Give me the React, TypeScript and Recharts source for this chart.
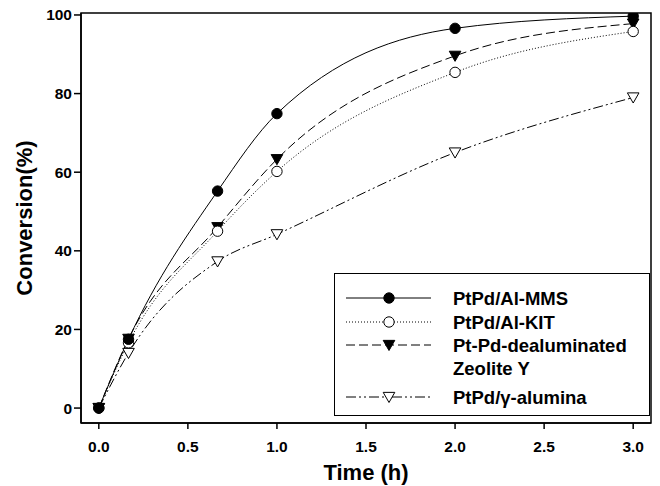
import React from "react"
import { LineChart, Line, XAxis, YAxis, ReferenceArea, Label } from "recharts"

const times = [0, 0.1667, 0.6667, 1.0, 2.0, 3.0]
const mms = [0, 17.5, 55.2, 74.9, 96.6, 99.7]
const kit = [0, 16.6, 45.0, 60.2, 85.4, 95.8]
const zeolite = [0, 17.6, 46.0, 63.3, 89.6, 97.8]
const alumina = [0, 14.0, 37.3, 44.2, 65.0, 79.0]

const xTicks = [0, 0.5, 1.0, 1.5, 2.0, 2.5, 3.0]
const yTicks = [0, 20, 40, 60, 80, 100]

const data = times.map((t, i) => ({
  t,
  mms: mms[i],
  kit: kit[i],
  zeolite: zeolite[i],
  alumina: alumina[i],
}))

const font = "'Liberation Sans', Arial, sans-serif"

const Circle = ({ cx, cy, filled }: any) =>
  cx == null ? null : (
    <circle cx={cx} cy={cy} r={5.2} fill={filled ? "#000" : "#fff"} stroke="#000" strokeWidth={1} />
  )

const Tri = ({ cx, cy, filled }: any) => {
  if (cx == null) return null
  const s = 5.8
  return (
    <polygon
      points={`${cx - s},${cy - s * 0.8} ${cx + s},${cy - s * 0.8} ${cx},${cy + s * 0.95}`}
      fill={filled ? "#000" : "#fff"}
      stroke="#000"
      strokeWidth={1}
    />
  )
}

const series = [
  { key: "mms", name: "PtPd/Al-MMS", dash: undefined, dot: (p: any) => <Circle key={p.key} {...p} filled /> },
  { key: "kit", name: "PtPd/Al-KIT", dash: "1 2", dot: (p: any) => <Circle key={p.key} {...p} /> },
  { key: "zeolite", name: "Pt-Pd-dealuminated", name2: "Zeolite Y", dash: "9 4", dot: (p: any) => <Tri key={p.key} {...p} filled /> },
  { key: "alumina", name: "PtPd/\u03b3-alumina", dash: "10 3 2 3 2 3", dot: (p: any) => <Tri key={p.key} {...p} /> },
]

function LegendBox() {
  const rows = [
    { s: series[0], y: 24 },
    { s: series[1], y: 48 },
    { s: series[2], y: 71 },
    { s: series[3], y: 123 },
  ]
  return (
    <div
      style={{
        position: "absolute",
        left: 334,
        top: 273,
        width: 316,
        height: 143,
        border: "1px solid #000",
        background: "#fff",
        boxSizing: "border-box",
      }}
    >
      <svg width={314} height={141} style={{ position: "absolute", left: 0, top: 0 }}>
        {rows.map(({ s, y }) => (
          <g key={s.key}>
            <line x1={11} x2={96} y1={y} y2={y} stroke="#000" strokeWidth={1} strokeDasharray={s.dash} />
            {s.dot({ cx: 54, cy: y, key: "d" })}
            <text x={118} y={y + 6.5} fontFamily={font} fontWeight="bold" fontSize={18.5} fill="#000">
              {s.name}
            </text>
            {s.name2 && (
              <text x={118} y={y + 29.5} fontFamily={font} fontWeight="bold" fontSize={18.5} fill="#000">
                {s.name2}
              </text>
            )}
          </g>
        ))}
      </svg>
    </div>
  )
}

export default function App() {
  return (
    <div style={{ position: "absolute", left: 0, top: 0, width: 660, height: 486, background: "#fff" }}>
      <LineChart width={660} height={486} data={data} margin={{ top: 13, right: 9, left: 0, bottom: 0 }}>
        <XAxis
          dataKey="t"
          type="number"
          domain={[-0.1, 3.1]}
          ticks={xTicks}
          allowDataOverflow
          tickFormatter={(v: number) => v.toFixed(1)}
          height={63}
          tickSize={6}
          tickMargin={12}
          stroke="#000"
          strokeWidth={1.5}
          tick={{ fill: "#000", fontFamily: font, fontWeight: "bold", fontSize: 15.5 }}
        >
          <Label
            value="Time (h)"
            position="insideBottom"
            offset={6}
            style={{ fill: "#000", fontFamily: font, fontWeight: "bold", fontSize: 22 }}
          />
        </XAxis>
        <YAxis
          type="number"
          domain={[-3.8, 100.5]}
          ticks={yTicks}
          allowDataOverflow
          width={81}
          tickSize={7}
          tickMargin={2}
          stroke="#000"
          strokeWidth={1.5}
          tick={{ fill: "#000", fontFamily: font, fontWeight: "bold", fontSize: 15.5 }}
        >
          <Label
            value="Conversion(%)"
            angle={-90}
            position="insideLeft"
            offset={24}
            style={{ textAnchor: "middle", fill: "#000", fontFamily: font, fontWeight: "bold", fontSize: 22 }}
          />
        </YAxis>
        <ReferenceArea
          x1={-0.1}
          x2={3.1}
          y1={-3.8}
          y2={100.5}
          fill="none"
          stroke="#000"
          strokeWidth={1.5}
          ifOverflow="visible"
        />
        {[...series].reverse().map((s) => (
          <Line
            key={s.key}
            dataKey={s.key}
            type="monotone"
            stroke="#000"
            strokeWidth={1}
            strokeDasharray={s.dash}
            dot={s.dot}
            activeDot={false}
            isAnimationActive={false}
          />
        ))}
      </LineChart>
      <LegendBox />
    </div>
  )
}
